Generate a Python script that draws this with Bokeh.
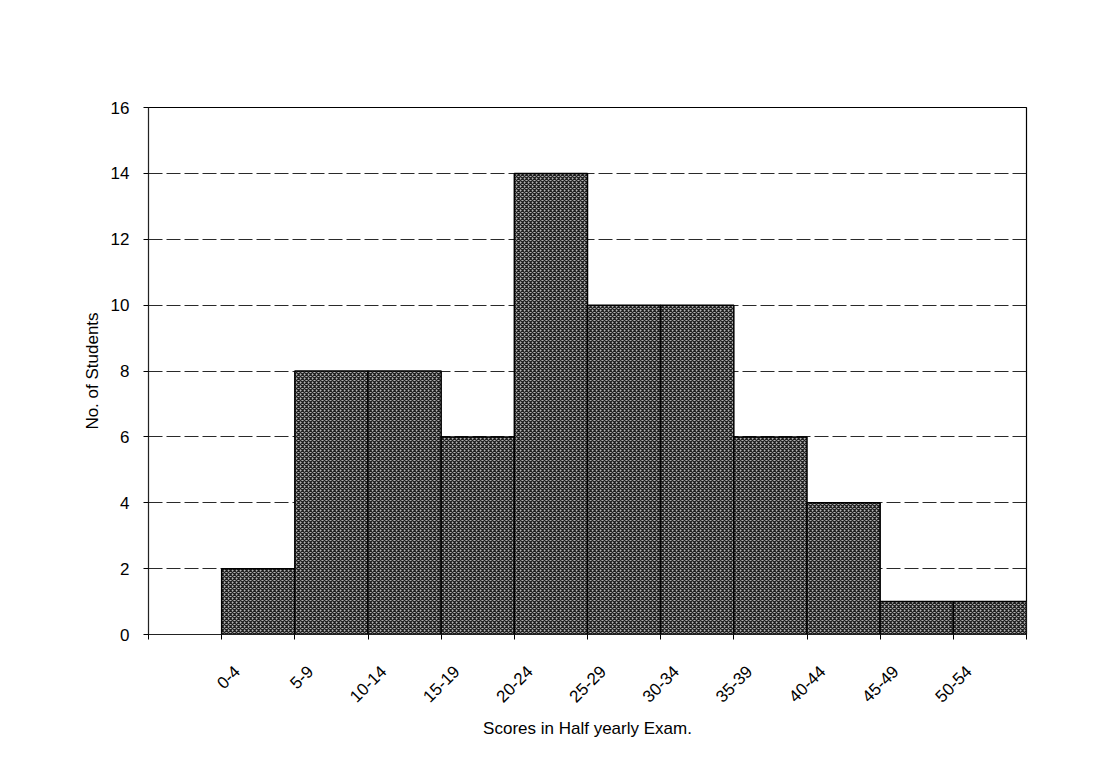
from bokeh.plotting import figure
from bokeh.models import (ColumnDataSource, Range1d, FixedTicker,
                          CustomJSTickFormatter)
from bokeh.embed import file_html
from bokeh.resources import INLINE
from math import pi

# Frequency table: score class intervals and number of students in each
score_bins = ["0-4", "5-9", "10-14", "15-19", "20-24", "25-29",
              "30-34", "35-39", "40-44", "45-49", "50-54"]
students = [2, 8, 8, 6, 14, 10, 10, 6, 4, 1, 1]
y_ticks = [0, 2, 4, 6, 8, 10, 12, 14, 16]

FONT = "Liberation Sans"
n = len(score_bins)

# The axis has one empty slot before the first class interval
slots = n + 1
left = [i + 1 for i in range(n)]
right = [i + 2 for i in range(n)]
source = ColumnDataSource(dict(left=left, right=right, top=students,
                               bottom=[0] * n, label=score_bins))

p = figure(width=1096, height=776, output_backend="svg", toolbar_location=None,
           x_range=Range1d(0, slots), y_range=Range1d(0, max(y_ticks)),
           min_border_left=148, min_border_right=70,
           min_border_top=107, min_border_bottom=142,
           background_fill_color="white", border_fill_color="white")

p.quad(left="left", right="right", top="top", bottom="bottom", source=source,
       fill_color="#b2b2b2", hatch_pattern="x", hatch_color="#202020",
       hatch_scale=4, hatch_weight=1.3,
       line_color="black", line_width=1.5)

# category labels sit slightly left of each bar's centre, boundary ticks between bars
label_shift = -0.29
xt = FixedTicker(ticks=[i + 1.5 + label_shift for i in range(n)],
                 minor_ticks=list(range(0, slots + 1)))
p.xaxis.ticker = xt
p.xaxis.formatter = CustomJSTickFormatter(
    args=dict(labels=score_bins),
    code="const i = Math.floor(tick) - 1; return (i >= 0 && i < labels.length) ? labels[i] : '';")
p.xaxis.major_tick_line_color = None
p.xaxis.minor_tick_line_color = "black"
p.xaxis.minor_tick_out = 5
p.xaxis.minor_tick_in = 0
p.xaxis.major_label_orientation = pi / 4
p.xaxis.major_label_standoff = 28
p.xaxis.axis_label = "Scores in Half yearly Exam."
p.xaxis.axis_label_standoff = 8

p.yaxis.ticker = FixedTicker(ticks=y_ticks, minor_ticks=[])
p.yaxis.major_tick_out = 5
p.yaxis.major_tick_in = 0
p.yaxis.major_label_standoff = 14
p.yaxis.axis_label = "No. of Students"
p.yaxis.axis_label_standoff = 6

for ax in (p.xaxis, p.yaxis):
    ax.axis_line_color = "#222222"
    ax.axis_line_width = 1
    ax.major_label_text_font = FONT
    ax.major_label_text_font_size = "17px"
    ax.major_label_text_color = "black"
    ax.axis_label_text_font = FONT
    ax.axis_label_text_font_size = "17px"
    ax.axis_label_text_font_style = "normal"
    ax.axis_label_text_color = "black"

p.xgrid.grid_line_color = None
p.ygrid.grid_line_color = "#2a2a2a"
p.ygrid.grid_line_width = 1
p.ygrid.grid_line_dash = "14 4"

p.outline_line_color = "black"
p.outline_line_width = 1.2

open("out.html", "w").write(file_html(p, INLINE))
